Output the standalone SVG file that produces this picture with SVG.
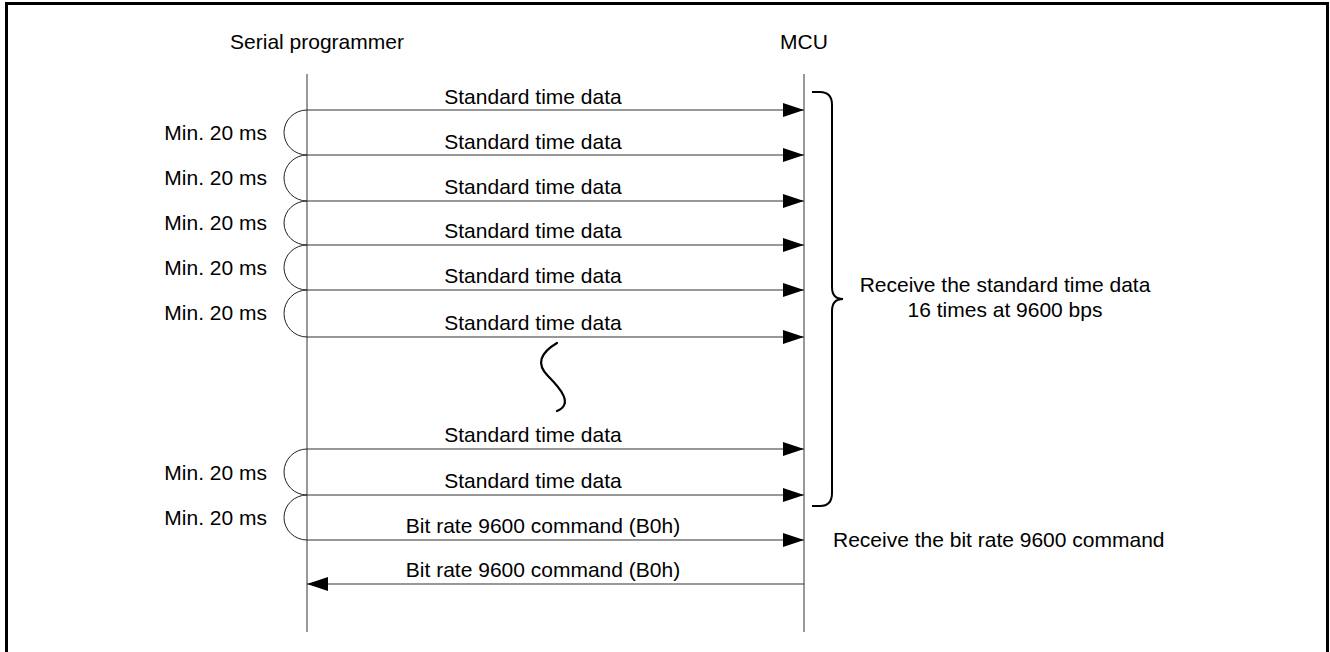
<svg xmlns="http://www.w3.org/2000/svg" width="1330" height="652" viewBox="0 0 1330 652">
  <style>
    text { font-family: "Liberation Sans", Arial, sans-serif; font-size: 21px; fill: #000; }
    .mid { text-anchor: middle; }
    .end { text-anchor: end; }
    .life { stroke: #555; stroke-width: 1.2; fill: none; }
    .msg { stroke: #333; stroke-width: 1.2; fill: none; marker-end: url(#head); }
    .loop { stroke: #222; stroke-width: 1; fill: none; }
    .brace { stroke: #000; stroke-width: 2; fill: none; }
  </style>
  <defs>
    <marker id="head" markerUnits="userSpaceOnUse" markerWidth="22" markerHeight="16" refX="21" refY="7" orient="auto">
      <path d="M0,0 L21,7 L0,14 z" fill="#000"/>
    </marker>
  </defs>

  <rect x="0" y="0" width="1330" height="652" fill="#fff"/>
  <!-- outer frame, open at the bottom -->
  <path d="M6.5,660 V3.5 H1327.5 V660" fill="none" stroke="#000" stroke-width="3"/>

  <!-- participants -->
  <g id="programmer">
    <text class="mid" x="317" y="49">Serial programmer</text>
    <line class="life" x1="307" y1="74" x2="307" y2="632"/>
  </g>
  <g id="mcu">
    <text class="mid" x="804" y="49">MCU</text>
    <line class="life" x1="804" y1="74" x2="804" y2="632"/>
  </g>

  <!-- minimum-interval loops -->
  <g id="intervals">
    <path class="loop" d="M307,110 A23,22.5 0 0 0 307,155"/>
    <path class="loop" d="M307,155 A23,23 0 0 0 307,201"/>
    <path class="loop" d="M307,201 A23,22 0 0 0 307,245"/>
    <path class="loop" d="M307,245 A23,22.5 0 0 0 307,290"/>
    <path class="loop" d="M307,290 A23,23.5 0 0 0 307,337"/>
    <path class="loop" d="M307,449 A23,23 0 0 0 307,495"/>
    <path class="loop" d="M307,495 A23,22.5 0 0 0 307,540"/>
    <text class="end" x="267" y="140">Min. 20 ms</text>
    <text class="end" x="267" y="185">Min. 20 ms</text>
    <text class="end" x="267" y="230">Min. 20 ms</text>
    <text class="end" x="267" y="275">Min. 20 ms</text>
    <text class="end" x="267" y="320">Min. 20 ms</text>
    <text class="end" x="267" y="480">Min. 20 ms</text>
    <text class="end" x="267" y="525">Min. 20 ms</text>
  </g>

  <!-- messages -->
  <g id="connectors">
    <line class="msg" x1="307" y1="110" x2="804" y2="110"/>
    <line class="msg" x1="307" y1="155" x2="804" y2="155"/>
    <line class="msg" x1="307" y1="201" x2="804" y2="201"/>
    <line class="msg" x1="307" y1="245" x2="804" y2="245"/>
    <line class="msg" x1="307" y1="290" x2="804" y2="290"/>
    <line class="msg" x1="307" y1="337" x2="804" y2="337"/>
    <line class="msg" x1="307" y1="449" x2="804" y2="449"/>
    <line class="msg" x1="307" y1="495" x2="804" y2="495"/>
    <line class="msg" x1="307" y1="540" x2="804" y2="540"/>
    <line class="msg" x1="804" y1="584" x2="307" y2="584"/>
  </g>

  <g id="labels">
    <text class="mid" x="533" y="104">Standard time data</text>
    <text class="mid" x="533" y="149">Standard time data</text>
    <text class="mid" x="533" y="194">Standard time data</text>
    <text class="mid" x="533" y="238">Standard time data</text>
    <text class="mid" x="533" y="283">Standard time data</text>
    <text class="mid" x="533" y="330">Standard time data</text>
    <text class="mid" x="533" y="442">Standard time data</text>
    <text class="mid" x="533" y="488">Standard time data</text>
    <text class="mid" x="543" y="533">Bit rate 9600 command (B0h)</text>
    <text class="mid" x="543" y="577">Bit rate 9600 command (B0h)</text>
  </g>

  <!-- omission mark -->
  <path id="break" d="M557,343 C540,353 536,364 548,376 C560,388 574,404 557,411" fill="none" stroke="#000" stroke-width="2.2" stroke-linecap="round"/>

  <!-- brace grouping the repeated receptions -->
  <g id="brace-note">
    <path class="brace" d="M812,92 H820 Q832,92 832,105 V287 Q832,299 843,299 Q832,299 832,311 V493 Q832,506 820,506 H812"/>
    <text class="mid" x="1005" y="292">Receive the standard time data</text>
    <text class="mid" x="1005" y="317">16 times at 9600 bps</text>
  </g>

  <g id="bitrate-note">
    <text x="833" y="547">Receive the bit rate 9600 command</text>
  </g>
</svg>
